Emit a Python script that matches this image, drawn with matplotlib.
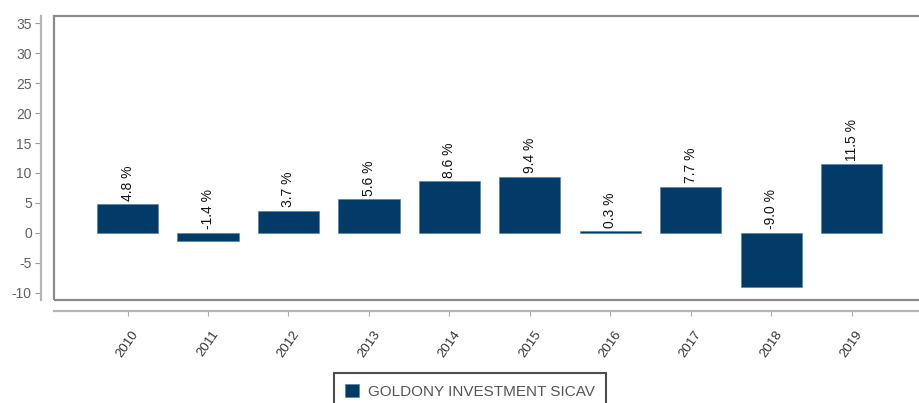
import matplotlib
matplotlib.use("Agg")
import matplotlib.pyplot as plt
from matplotlib.patches import Rectangle, Patch

years = ["2010", "2011", "2012", "2013", "2014", "2015", "2016", "2017", "2018", "2019"]
returns = [4.8, -1.4, 3.7, 5.6, 8.6, 9.4, 0.3, 7.7, -9.0, 11.5]
yticks = [-10, -5, 0, 5, 10, 15, 20, 25, 30, 35]
series_name = "GOLDONY INVESTMENT SICAV"

plt.rcParams['font.family'] = ['Liberation Sans', 'DejaVu Sans']
plt.rcParams['axes.unicode_minus'] = False

W, H = 920, 403
fig = plt.figure(figsize=(W / 100, H / 100), dpi=100)

left, right, top, bottom = 54, 925, 16, 300
ax = fig.add_axes([left / W, 1 - bottom / H, (right - left) / W, (bottom - top) / H])

for s in ["top", "right"]:
    ax.spines[s].set_visible(False)
ax.spines["left"].set_position(("outward", 9))
ax.spines["bottom"].set_position(("outward", 8))
for s in ["left", "bottom"]:
    ax.spines[s].set_color("#b5b5b5")
    ax.spines[s].set_linewidth(1.6)

bar_color = "#023a68"
x = list(range(len(years)))
ax.bar(x, returns, width=0.76, color=bar_color, edgecolor="#4a7aa5", linewidth=0.4)

for xi, v in zip(x, returns):
    base = max(v, 0)
    ax.annotate(f"{v:.1f} %", (xi, base), xytext=(0, 2.5), textcoords="offset points",
                rotation=90, ha="center", va="bottom", fontsize=10, color="#111111")

ax.set_xlim(-0.914, 9.91)
ax.set_ylim(-11.2, 36.2)
ax.set_yticks(yticks)
ax.set_xticks(x)
ax.set_xticklabels(years, rotation=55, ha="center", va="top")
ax.tick_params(axis="y", labelsize=10, labelcolor="#606060", color="#999999", length=4, width=0.8, direction="out", pad=3)
ax.tick_params(axis="x", labelsize=9.5, labelcolor="#333333", color="#aaaaaa", length=3.5, width=0.8, direction="out", pad=9)

frame = Rectangle((0, 0), 1, 1, transform=ax.transAxes, fill=False,
                  edgecolor="#8a8a8a", linewidth=1.6, clip_on=False, zorder=5)
ax.add_patch(frame)

handle = Patch(facecolor=bar_color, edgecolor="#4a7aa5", linewidth=0.4)
leg = fig.legend([handle], [series_name], loc="upper center",
                 bbox_to_anchor=(470 / W, 1 - 373 / H), frameon=True, fancybox=False,
                 fontsize=11, handlelength=0.9, handleheight=1.0, handletextpad=0.6,
                 borderpad=0.7, borderaxespad=0)
leg.get_frame().set_edgecolor("#222222")
leg.get_frame().set_linewidth(1.5)
for t in leg.get_texts():
    t.set_color("#555555")

fig.savefig("out.png", dpi=100)
